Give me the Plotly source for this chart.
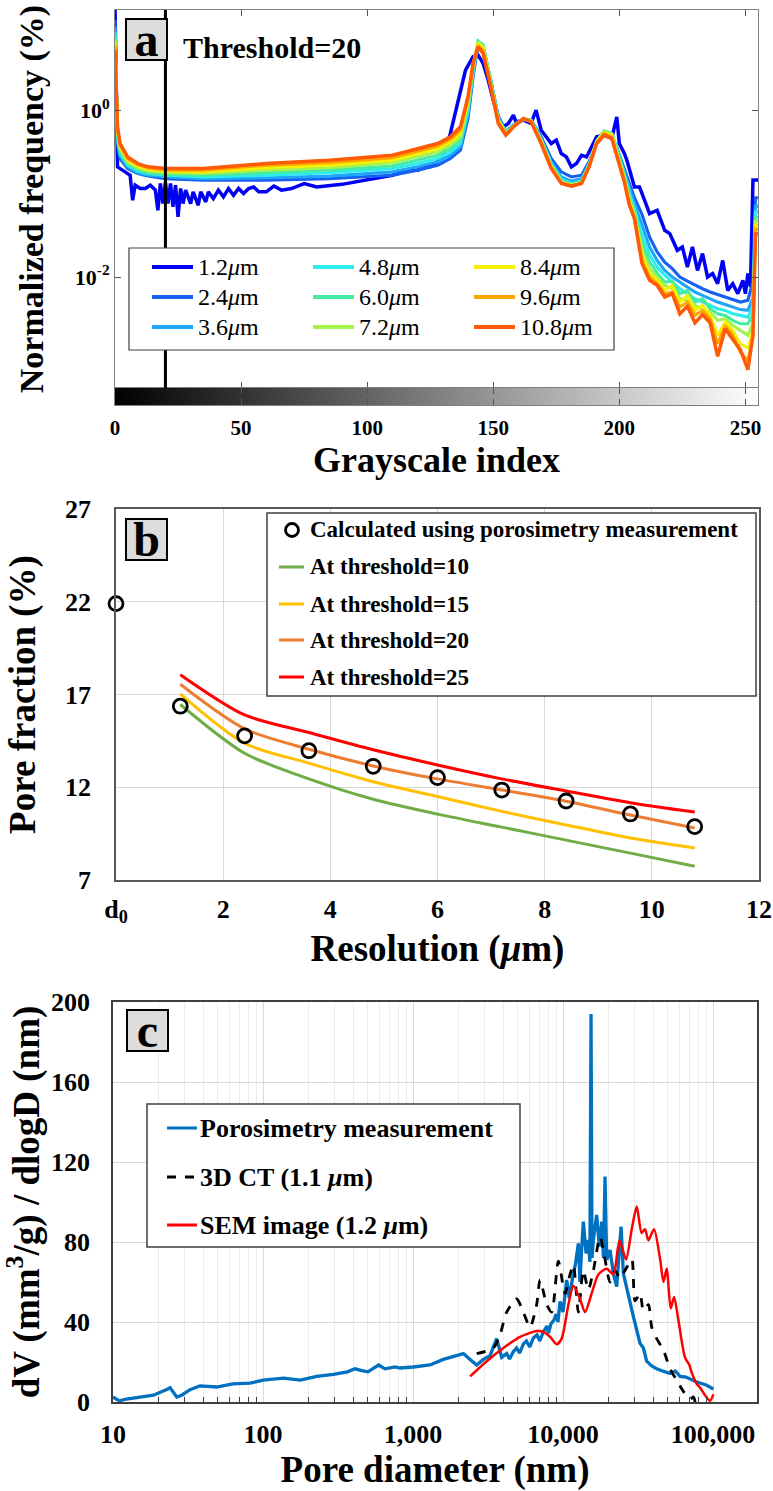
import plotly.graph_objects as go

W, H = 773, 1491
FONT = "Liberation Serif"

# ---------------- Panel a: grayscale histograms ----------------
gray_index = [0, 1, 2, 5, 9, 13, 20, 35, 60, 85, 110, 120, 128, 133, 137, 140, 142, 144, 146, 149,
              152, 155, 158, 162, 165, 169, 173, 177, 181, 185, 188, 191, 194, 197, 199, 202, 204, 206, 209, 212,
              215, 218, 221, 224, 227, 230, 233, 236, 239, 242, 245, 248, 251, 253, 254, 255]

gray_index_1_2um = [0, 1, 4, 6, 7, 8, 10, 12, 14, 16, 17, 18, 19, 20, 21, 22, 23, 24, 25, 26,
                    27, 28, 30, 31, 33, 34, 36, 37, 39, 41, 43, 45, 47, 49, 51, 53, 55, 57, 60, 63,
                    66, 70, 75, 80, 90, 100, 110, 117, 120, 127, 130, 133, 136, 139, 142, 144, 146, 148, 150, 152,
                    154, 156, 158, 159, 162, 165, 167, 169, 171, 173, 175, 177, 179, 181, 183, 185, 187, 189, 191, 194,
                    197, 199, 200, 202, 203, 206, 208, 210, 212, 215, 218, 220, 223, 225, 227, 229, 231, 233, 235, 237,
                    239, 241, 243, 245, 247, 249, 250, 251, 252, 253, 255]
freq_1_2um = [17.8, 0.209, 0.182, 0.166, 0.0832, 0.126, 0.115, 0.115, 0.126, 0.110,
              0.0631, 0.132, 0.0759, 0.138, 0.0759, 0.132, 0.0692, 0.126, 0.0525, 0.115,
              0.0759, 0.110, 0.0759, 0.105, 0.0724, 0.105, 0.0794, 0.105, 0.0871, 0.110,
              0.0912, 0.115, 0.0955, 0.115, 0.100, 0.115, 0.120, 0.105, 0.105, 0.123,
              0.110, 0.115, 0.132, 0.120, 0.129, 0.145, 0.166, 0.191, 0.191, 0.229,
              0.275, 0.525, 1.32, 3.02, 4.37, 4.57, 3.63, 2.29, 1.32, 0.832,
              0.631, 0.692, 0.871, 0.724, 0.759, 0.692, 1.0, 0.575, 0.479, 0.398,
              0.437, 0.302, 0.275, 0.209, 0.229, 0.288, 0.275, 0.363, 0.479, 0.501,
              0.457, 0.832, 0.398, 0.302, 0.251, 0.120, 0.120, 0.0832, 0.0575, 0.0631,
              0.0363, 0.0331, 0.0209, 0.0229, 0.0132, 0.0229, 0.0120, 0.0191, 0.0100, 0.0110,
              0.00832, 0.0158, 0.00692, 0.00832, 0.00631, 0.00912, 0.00631, 0.0110, 0.00759, 0.145,
              0.145]
freq_2_4um = [12.0, 0.398, 0.263, 0.200, 0.174, 0.162, 0.151, 0.145, 0.145, 0.151,
              0.166, 0.191, 0.219, 0.263, 0.331, 0.794, 2.51, 6.03, 5.50, 2.29,
              0.832, 0.550, 0.661, 0.759, 0.759, 0.479, 0.263, 0.182, 0.158, 0.166,
              0.240, 0.398, 0.501, 0.479, 0.355, 0.200, 0.132, 0.0891, 0.0562, 0.0302,
              0.0200, 0.0151, 0.0126, 0.0100, 0.00891, 0.00794, 0.00724, 0.00661, 0.00617, 0.00575,
              0.00537, 0.00501, 0.00525, 0.00891, 0.0891, 0.0891]
freq_3_6um = [10.0, 0.437, 0.282, 0.209, 0.178, 0.166, 0.158, 0.151, 0.155, 0.162,
              0.182, 0.209, 0.240, 0.288, 0.363, 0.891, 2.75, 6.31, 5.75, 2.29,
              0.813, 0.550, 0.661, 0.776, 0.759, 0.457, 0.240, 0.158, 0.141, 0.151,
              0.229, 0.417, 0.537, 0.501, 0.355, 0.182, 0.112, 0.0759, 0.0417, 0.0229,
              0.0158, 0.0120, 0.0100, 0.00871, 0.00759, 0.00661, 0.00603, 0.00550, 0.00501, 0.00468,
              0.00437, 0.00407, 0.00398, 0.00562, 0.0708, 0.0708]
freq_4_8um = [8.71, 0.468, 0.302, 0.219, 0.186, 0.174, 0.166, 0.158, 0.166, 0.178,
              0.200, 0.229, 0.263, 0.316, 0.398, 1.00, 2.95, 6.61, 6.03, 2.24,
              0.794, 0.537, 0.646, 0.794, 0.759, 0.447, 0.229, 0.148, 0.132, 0.141,
              0.224, 0.427, 0.562, 0.525, 0.347, 0.170, 0.100, 0.0661, 0.0316, 0.0182,
              0.0132, 0.0105, 0.00871, 0.00724, 0.00631, 0.00550, 0.00501, 0.00457, 0.00417, 0.00398,
              0.00363, 0.00347, 0.00331, 0.00447, 0.0603, 0.0603]
freq_6_0um = [7.94, 0.501, 0.324, 0.229, 0.195, 0.178, 0.170, 0.166, 0.178, 0.191,
              0.214, 0.251, 0.288, 0.347, 0.437, 1.10, 3.16, 6.76, 6.03, 2.19,
              0.776, 0.537, 0.646, 0.794, 0.741, 0.437, 0.219, 0.141, 0.129, 0.138,
              0.219, 0.427, 0.562, 0.525, 0.339, 0.162, 0.0912, 0.0603, 0.0251, 0.0151,
              0.0112, 0.00871, 0.00891, 0.00631, 0.00692, 0.00501, 0.00550, 0.00417, 0.00363, 0.00347,
              0.00302, 0.00275, 0.00275, 0.00355, 0.0525, 0.0525]
freq_7_2um = [7.08, 0.537, 0.347, 0.240, 0.204, 0.186, 0.178, 0.174, 0.191, 0.204,
              0.234, 0.275, 0.316, 0.380, 0.479, 1.20, 3.31, 6.61, 5.75, 2.14,
              0.759, 0.525, 0.646, 0.794, 0.741, 0.427, 0.214, 0.138, 0.126, 0.135,
              0.214, 0.417, 0.550, 0.513, 0.324, 0.155, 0.0851, 0.0562, 0.0209, 0.0126,
              0.0100, 0.00794, 0.00724, 0.00550, 0.00525, 0.00457, 0.00417, 0.00380, 0.00302, 0.00316,
              0.00263, 0.00229, 0.00200, 0.00282, 0.0468, 0.0468]
freq_8_4um = [6.46, 0.562, 0.363, 0.251, 0.214, 0.195, 0.186, 0.182, 0.204, 0.219,
              0.251, 0.302, 0.347, 0.417, 0.525, 1.29, 3.47, 6.31, 5.50, 2.04,
              0.741, 0.513, 0.631, 0.794, 0.741, 0.417, 0.209, 0.135, 0.126, 0.135,
              0.214, 0.417, 0.537, 0.501, 0.309, 0.148, 0.0794, 0.0537, 0.0182, 0.0110,
              0.00912, 0.00692, 0.00794, 0.00501, 0.00603, 0.00398, 0.00457, 0.00347, 0.00200, 0.00288,
              0.00229, 0.00158, 0.00141, 0.00224, 0.0417, 0.0417]
freq_9_6um = [5.89, 0.603, 0.380, 0.263, 0.224, 0.204, 0.191, 0.191, 0.219, 0.234,
              0.269, 0.324, 0.372, 0.447, 0.575, 1.38, 3.55, 6.03, 5.13, 2.00,
              0.724, 0.513, 0.631, 0.794, 0.724, 0.407, 0.204, 0.135, 0.123, 0.132,
              0.209, 0.407, 0.525, 0.479, 0.295, 0.141, 0.0759, 0.0513, 0.0158, 0.0100,
              0.00832, 0.00631, 0.00661, 0.00437, 0.00501, 0.00347, 0.00398, 0.00316, 0.00158, 0.00263,
              0.00200, 0.00126, 0.00100, 0.00191, 0.0372, 0.0372]
freq_10_8um = [5.25, 0.631, 0.398, 0.275, 0.229, 0.209, 0.200, 0.200, 0.229, 0.251,
               0.288, 0.347, 0.398, 0.479, 0.631, 1.45, 3.63, 5.75, 4.79, 1.91,
               0.692, 0.501, 0.631, 0.794, 0.724, 0.398, 0.200, 0.132, 0.123, 0.132,
               0.209, 0.398, 0.501, 0.457, 0.282, 0.138, 0.0724, 0.0501, 0.0145, 0.00912,
               0.00794, 0.00575, 0.00631, 0.00363, 0.00447, 0.00282, 0.00355, 0.00282, 0.00112, 0.00240,
               0.00178, 0.00135, 0.000776, 0.00200, 0.0331, 0.0331]

res_labels = ["1.2", "2.4", "3.6", "4.8", "6.0", "7.2", "8.4", "9.6", "10.8"]
res_colors = ["#0000F5", "#1661F2", "#1FA6F7", "#2CEDEE", "#46EBA2", "#A6F24F", "#F7F000", "#FFA500", "#FF5A05"]
threshold_value = 20
gray_levels = list(range(256))

# ---------------- Panel b: pore fraction vs resolution ----------------
resolution_um = [1.2, 2.4, 3.6, 4.8, 6.0, 7.2, 8.4, 9.6, 10.8]
pore_thr10 = [16.46, 13.83, 12.45, 11.35, 10.55, 9.85, 9.15, 8.45, 7.74]
pore_thr15 = [17.03, 14.37, 13.30, 12.30, 11.50, 10.70, 9.97, 9.26, 8.72]
pore_thr20 = [17.55, 15.15, 14.05, 13.15, 12.45, 11.85, 11.25, 10.50, 9.80]
pore_thr25 = [18.07, 15.90, 14.95, 14.02, 13.20, 12.45, 11.80, 11.17, 10.66]
measured_res = [0, 1.2, 2.4, 3.6, 4.8, 6.0, 7.2, 8.4, 9.6, 10.8]
measured_pore = [21.9, 16.37, 14.77, 13.97, 13.13, 12.52, 11.85, 11.26, 10.56, 9.88]

# ---------------- Panel c: pore size distributions ----------------
meas_d = [10, 11, 12.3, 15, 18.6, 22.8, 24, 26.6, 28.7, 32.6, 38, 49, 63, 82, 100, 137, 177, 228, 295, 365,
          410, 456, 500, 590, 650, 760, 819, 1005, 1298, 1592, 1955, 2166, 2400, 2657, 2943, 3260, 3612,
          3900, 4210, 4400, 4664, 4900, 5150, 5440, 5700, 6000, 6340, 6700, 7000, 7390, 7800, 8000, 8300,
          8700, 9000, 9250, 9550, 10000, 10580, 11000, 11720, 12100, 12650, 12970, 13300, 13660, 14230, 14740,
          15100, 15370, 15600, 15930, 16760, 17470, 18110, 18600, 19050, 19540, 20560, 21660, 22790, 24370, 25240,
          26560, 27970, 29440, 30980, 32600, 34330, 36100, 39000, 42100, 46000, 51700, 56000, 60300, 66000,
          70000, 77800, 90000, 100500]
meas_dv = [2.5, 0.6, 1.5, 2.5, 3.4, 6.2, 7.2, 2.5, 3.4, 6.2, 8.1, 7.5, 9.1, 9.4, 10.9, 11.9, 10.9, 12.8, 13.8, 15.1,
           16.6, 15.7, 15.1, 18.5, 16.6, 17.5, 17.0, 17.5, 18.5, 21.3, 23.2, 24.2, 21.3, 18.5, 21.3, 23.2, 31.7,
           22.3, 24.2, 21.5, 25.1, 27, 24.5, 29, 30.5, 27.5, 32, 33.5, 30.5, 35, 38, 34.5, 39,
           41, 44, 40, 50.3, 45, 61, 52, 64.3, 69, 79.3, 60, 76, 90.2, 74.3, 81,
           70, 194, 72, 81, 93.5, 77.7, 90.2, 72, 112.7, 71, 76, 64.3, 57.7, 87.7, 64.3,
           57.7, 51, 42.7, 36, 29.3, 27, 20.4, 18, 16.6, 15.5, 14.3, 15.5, 12.8, 12.5,
           11.5, 10.0, 8.5, 6.5]
ct_d = [2657, 3433, 3800, 4210, 4910, 5440, 6030, 6670, 7030, 7790, 8400, 9310, 10300, 11130, 11720, 12650, 13660,
        14740, 15930, 17650, 19050, 20560, 22210, 23990, 25880, 28710, 30200, 32600, 34330, 37070, 39000, 42100,
        46660, 51700, 57300, 63400, 70300, 74000, 76000]
ct_dv = [24.2, 27, 33.6, 44.9, 51.5, 44.9, 37.4, 48.7, 61, 48.7, 44.9, 70.4, 54.3, 63.8, 68.5, 44.9, 65.7,
         56.2, 65.7, 82.6, 71.3, 60, 65.7, 61.9, 65.7, 71.3, 50.6, 54.3, 45.8, 48.7, 37.4, 31.7,
         26, 16.6, 10.9, 5.3, 1.5, 2.5, 0]
sem_d = [2400, 3100, 4000, 5170, 6670, 7390, 8190, 9080, 9790, 10860, 11720, 12970, 14020, 15520, 17200, 19540,
         21660, 23770, 26300, 28710, 31000, 33400, 35200, 37070, 40400, 44400, 46700, 49100, 52200, 55000, 58700,
         65000, 69500, 72100, 77800, 81900, 88400, 95500, 100500]
sem_dv = [12.8, 20.4, 27, 32.6, 35.5, 35.1, 32.6, 28.9, 31.7, 48.7, 58.1, 51.5, 44.9, 54.3, 63.8, 66.6,
          63.8, 80.8, 71.3, 86.4, 97.7, 84.5, 86.4, 80.8, 86.4, 71.3, 60, 66.6, 46.8, 52.5, 41.1,
          22.3, 18.5, 14.7, 9.1, 7.2, 3.4, 0.6, 3.8]


def fx(p):
    return p / W


def fy(p):
    return 1 - p / H


fig = go.Figure()

# ---- panel a traces
series_a = [freq_1_2um, freq_2_4um, freq_3_6um, freq_4_8um, freq_6_0um,
            freq_7_2um, freq_8_4um, freq_9_6um, freq_10_8um]
for i, (lab, col, vals) in enumerate(zip(res_labels, res_colors, series_a)):
    xs = gray_index_1_2um if i == 0 else gray_index
    fig.add_trace(go.Scatter(
        x=xs, y=vals, mode="lines", name=f"{lab} μm", showlegend=False,
        line=dict(color=col, width=3.5 if i in (0, 8) else 3.1),
        xaxis="x", yaxis="y"))

fig.add_trace(go.Heatmap(x=gray_levels, y=[0], z=[gray_levels],
                         colorscale=[[0, "#000000"], [1, "#FFFFFF"]],
                         showscale=False, xaxis="x2", yaxis="y2", hoverinfo="skip"))

# ---- panel b traces
b_lines = [("At threshold=10", pore_thr10, "#70AD47"),
           ("At threshold=15", pore_thr15, "#FFC000"),
           ("At threshold=20", pore_thr20, "#ED7D31"),
           ("At threshold=25", pore_thr25, "#FF0000")]
for nm, vals, col in b_lines:
    fig.add_trace(go.Scatter(x=resolution_um, y=vals, mode="lines", name=nm, showlegend=False,
                             line=dict(color=col, width=3, shape="spline", smoothing=0.8),
                             xaxis="x3", yaxis="y3"))
fig.add_trace(go.Scatter(x=measured_res, y=measured_pore, mode="markers",
                         name="Calculated using porosimetry measurement", showlegend=False,
                         marker=dict(symbol="circle-open", size=14, color="black",
                                     line=dict(width=2.8, color="black")),
                         cliponaxis=False, xaxis="x3", yaxis="y3"))

# ---- panel c traces
c_series = [("Porosimetry measurement", meas_d, meas_dv, dict(color="#0070C0", width=3.3)),
            ("3D CT (1.1 <i>μ</i>m)", ct_d, ct_dv,
             dict(color="black", width=2.8, dash="dash", shape="spline", smoothing=0.7)),
            ("SEM image (1.2 <i>μ</i>m)", sem_d, sem_dv,
             dict(color="#FF0000", width=2.5, shape="spline", smoothing=0.7))]
for nm, xs, ys, ln in c_series:
    fig.add_trace(go.Scatter(x=xs, y=ys, mode="lines", name=nm, showlegend=False, line=ln,
                             xaxis="x4", yaxis="y4"))

bold = dict(family=FONT, color="black", weight="bold")
minor_c = [m * 10 ** k for k in range(1, 6) for m in range(2, 10)]

fig.update_layout(
    width=W, height=H, margin=dict(l=0, r=0, t=0, b=0, autoexpand=False), autosize=False,
    paper_bgcolor="white", plot_bgcolor="white",
    font=dict(family=FONT, color="black"),
    showlegend=False,
    # panel a
    xaxis=dict(domain=[fx(115), fx(758)], anchor="y", range=[0, 255], showticklabels=False, automargin=False,
               tickvals=[0, 50, 100, 150, 200, 250], ticks="inside", ticklen=6, tickcolor="#555555",
               showline=True, linecolor="#808080", linewidth=1, mirror="ticks", showgrid=False, zeroline=False),
    yaxis=dict(domain=[fy(388), fy(10)], anchor="x", type="log", range=[-3.33, 1.2], automargin=False,
               tickvals=[1, 0.01], ticktext=["10<sup>0</sup>", "10<sup>-2</sup>"],
               tickfont=dict(size=22, **bold), ticks="inside", ticklen=6, tickcolor="#555555",
               showline=True, linecolor="#808080", linewidth=1, mirror="ticks", showgrid=False, zeroline=False,
               title=dict(text="Normalized frequency (%)", font=dict(size=34, **bold), standoff=20)),
    xaxis2=dict(domain=[fx(115), fx(758)], anchor="y2", range=[0, 255], automargin=False,
                tickvals=[0, 50, 100, 150, 200, 250], ticks="inside", ticklen=6, tickcolor="#555555",
                tickfont=dict(size=21, **bold), ticklabelstandoff=4,
                showline=True, linecolor="#808080", linewidth=1, mirror="ticks",
                showgrid=False, zeroline=False,
                title=dict(text="Grayscale index", font=dict(size=36, **bold), standoff=5)),
    yaxis2=dict(domain=[fy(405), fy(388)], anchor="x2", range=[-0.5, 0.5], showticklabels=False,
                automargin=False, showline=True, linecolor="#808080", linewidth=1, mirror=True,
                showgrid=False, zeroline=False),
    # panel b
    xaxis3=dict(domain=[fx(116), fx(759)], anchor="y3", range=[0, 12], automargin=False,
                tickvals=[0, 2, 4, 6, 8, 10, 12], ticktext=["d<sub>0</sub>", "2", "4", "6", "8", "10", "12"],
                tickfont=dict(size=26, **bold), ticks="", ticklabelstandoff=5,
                showline=True, linecolor="#595959", linewidth=1.5, mirror=True,
                showgrid=True, gridcolor="#D9D9D9", gridwidth=1, zeroline=False,
                title=dict(text="Resolution (<i>μ</i>m)", font=dict(size=37, **bold), standoff=9)),
    yaxis3=dict(domain=[fy(880), fy(509)], anchor="x3", range=[7, 27], automargin=False,
                tickvals=[7, 12, 17, 22, 27], tickfont=dict(size=26, **bold), ticks="", ticklabelstandoff=18,
                showline=True, linecolor="#595959", linewidth=1.5, mirror=True,
                showgrid=True, gridcolor="#D9D9D9", gridwidth=1, zeroline=False,
                title=dict(text="Pore fraction (%)", font=dict(size=37, **bold), standoff=18)),
    # panel c
    xaxis4=dict(domain=[fx(113), fx(757)], anchor="y4", type="log", range=[1, 5.293], automargin=False,
                tickvals=[10, 100, 1000, 10000, 100000], ticktext=["10", "100", "1,000", "10,000", "100,000"],
                tickfont=dict(size=26, **bold), ticks="", ticklabelstandoff=8,
                showline=True, linecolor="#404040", linewidth=1.5, mirror=True,
                showgrid=True, gridcolor="#D9D9D9", gridwidth=1.2, zeroline=False,
                minor=dict(tickvals=minor_c, showgrid=True, gridcolor="#ECECEC", gridwidth=1,
                           ticks="inside", ticklen=5, tickcolor="#404040"),
                title=dict(text="Pore diameter (nm)", font=dict(size=37, **bold), standoff=3)),
    yaxis4=dict(domain=[fy(1402), fy(1002)], anchor="x4", range=[0, 200], automargin=False,
                tickvals=[0, 40, 80, 120, 160, 200], tickfont=dict(size=26, **bold), ticks="", ticklabelstandoff=16,
                showline=True, linecolor="#404040", linewidth=1.5, mirror=True,
                showgrid=True, gridcolor="#D9D9D9", gridwidth=1.2, zeroline=False,
                title=dict(text="dV (mm<sup>3</sup>/g) / dlogD (nm)", font=dict(size=37, **bold), standoff=18)),
)

# threshold line (panel a)
fig.add_shape(type="line", xref="x", yref="y domain", x0=threshold_value, x1=threshold_value, y0=0, y1=1,
              line=dict(color="black", width=3))


# ---- legend helpers (boxes drawn on paper, entries mirror the traces above)
def legend_box(x0, y0, x1, y1, width=1.2):
    fig.add_shape(type="rect", xref="paper", yref="paper", x0=fx(x0), x1=fx(x1), y0=fy(y1), y1=fy(y0),
                  fillcolor="white", line=dict(color="#404040", width=width), layer="above")


def legend_line(x0, x1, y, line):
    fig.add_shape(type="line", xref="paper", yref="paper", x0=fx(x0), x1=fx(x1), y0=fy(y), y1=fy(y),
                  line=line, layer="above")


def legend_text(x, y, text, font):
    fig.add_annotation(xref="paper", yref="paper", x=fx(x), y=fy(y), xanchor="left", yanchor="middle",
                       text=text, showarrow=False, font=font, borderpad=0)


# legend a (3 columns x 3 rows)
legend_box(129, 248, 614, 350)
col_x = [152, 313, 474]
row_y = [267, 297, 327]
for i, (lab, col) in enumerate(zip(res_labels, res_colors)):
    cx, ry = col_x[i // 3], row_y[i % 3]
    legend_line(cx, cx + 41, ry, dict(color=col, width=4))
    legend_text(cx + 45, ry, f"{lab}<i>μ</i>m", dict(family=FONT, size=24, color="black"))

# legend b
legend_box(267, 513, 756, 696, width=1.5)
rows_b = [530, 567, 604, 640, 677]
fig.add_shape(type="circle", xref="paper", yref="paper", x0=fx(285.5), x1=fx(298.5), y0=fy(536.5), y1=fy(523.5),
              line=dict(color="black", width=2.8), fillcolor="rgba(0,0,0,0)", layer="above")
legend_text(309, rows_b[0], "Calculated using porosimetry measurement", dict(size=23, **bold))
for (nm, _, col), ry in zip(b_lines, rows_b[1:]):
    legend_line(279, 304, ry, dict(color=col, width=3))
    legend_text(309, ry, nm, dict(size=23, **bold))

# legend c
legend_box(147, 1104, 520, 1247, width=1.5)
rows_c = [1128, 1177, 1225]
for (nm, _, _, ln), ry in zip(c_series, rows_c):
    legend_line(167, 197, ry, dict(color=ln["color"], width=3, dash=ln.get("dash", "solid")))
    legend_text(199, ry, nm, dict(size=26, **bold))

# panel letters
for letter, cx, cy in [("a", 146, 40), ("b", 146, 539), ("c", 147.5, 1030)]:
    fig.add_annotation(xref="paper", yref="paper", x=fx(cx), y=fy(cy), xanchor="center", yanchor="middle",
                       text=f"<b>{letter}</b>", showarrow=False, font=dict(family=FONT, size=48, color="black"),
                       bgcolor="#DCDCDC", bordercolor="black", borderwidth=2, borderpad=0, width=39, height=39)

fig.add_annotation(xref="paper", yref="paper", x=fx(181), y=fy(48), xanchor="left", yanchor="middle",
                   text="Threshold=20", showarrow=False, font=dict(size=30, **bold))

fig.write_html("out.html")
